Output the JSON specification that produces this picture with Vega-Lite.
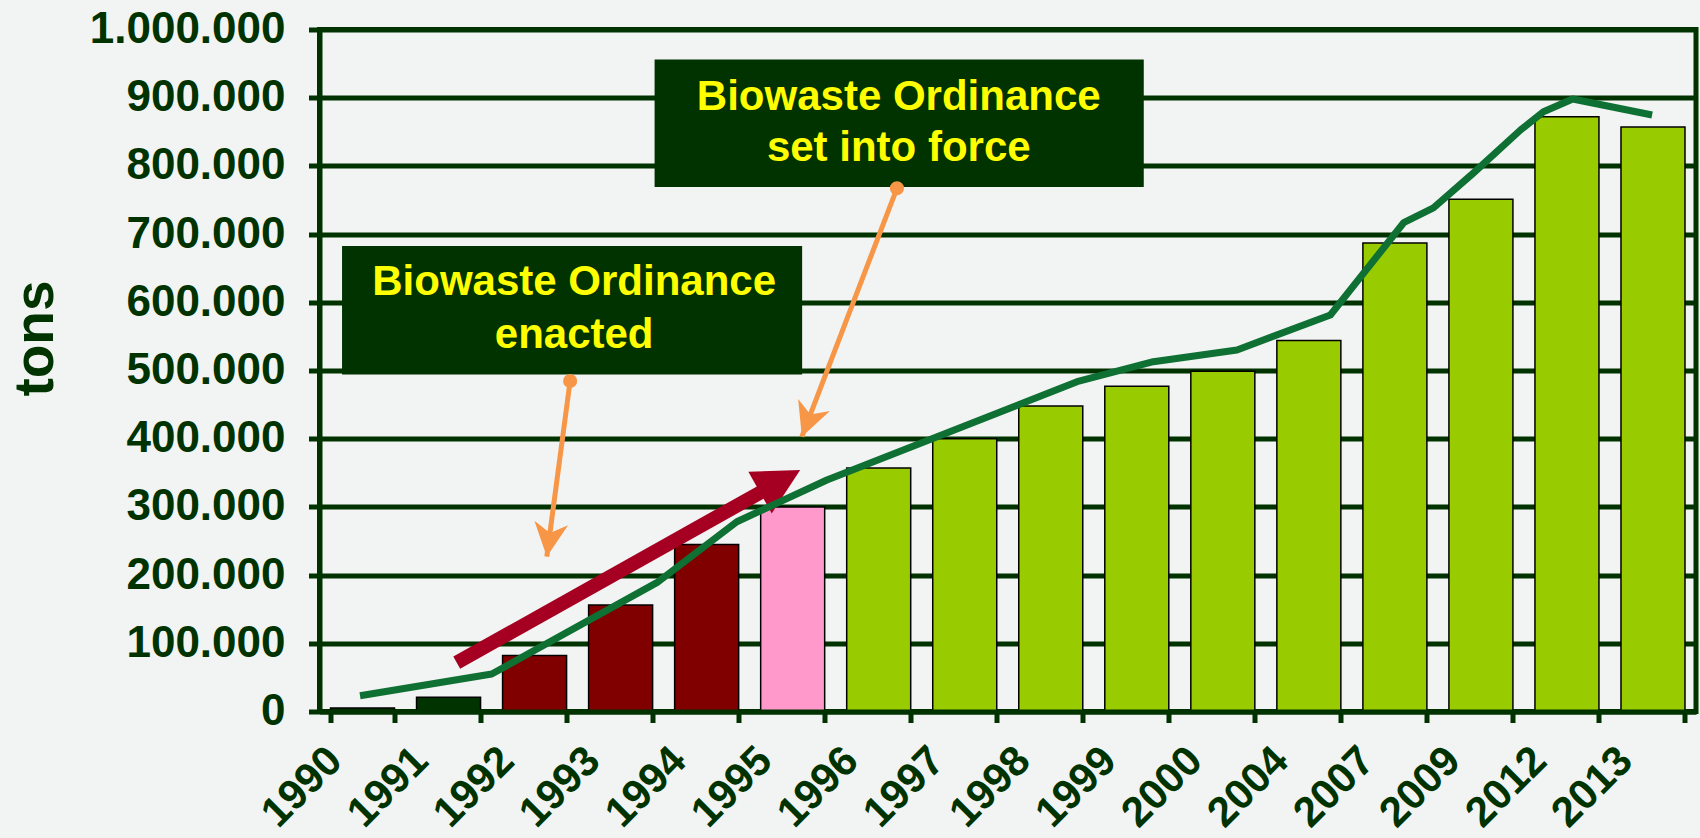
{
  "$schema": "https://vega.github.io/schema/vega-lite/v6.json",
  "width": 1376.5,
  "height": 682,
  "autosize": {"type": "none"},
  "padding": {"left": 319.5, "top": 29.5, "right": 4, "bottom": 126.5},
  "background": "#f2f4f3",
  "config": {
    "locale": {"number": {"decimal": ",", "thousands": ".", "grouping": [3], "currency": ["", " €"]}},
    "view": {"stroke": "#003300", "strokeWidth": 5},
    "font": "Liberation Sans"
  },
  "datasets": {
    "bars": [
      {"year": "1990", "tons": 5000, "phase": "before"},
      {"year": "1991", "tons": 21000, "phase": "before"},
      {"year": "1992", "tons": 82000, "phase": "enacted"},
      {"year": "1993", "tons": 156000, "phase": "enacted"},
      {"year": "1994", "tons": 245000, "phase": "enacted"},
      {"year": "1995", "tons": 300000, "phase": "transition"},
      {"year": "1996", "tons": 357000, "phase": "in force"},
      {"year": "1997", "tons": 400000, "phase": "in force"},
      {"year": "1998", "tons": 448000, "phase": "in force"},
      {"year": "1999", "tons": 477000, "phase": "in force"},
      {"year": "2000", "tons": 499000, "phase": "in force"},
      {"year": "2004", "tons": 544000, "phase": "in force"},
      {"year": "2007", "tons": 687000, "phase": "in force"},
      {"year": "2009", "tons": 751000, "phase": "in force"},
      {"year": "2012", "tons": 872000, "phase": "in force"},
      {"year": "2013", "tons": 857000, "phase": "in force"}
    ],
    "trend": [
      {"pos": 0.471, "tons": 23200},
      {"pos": 2.002, "tons": 55000},
      {"pos": 3.921, "tons": 188900},
      {"pos": 4.851, "tons": 278300},
      {"pos": 5.898, "tons": 339400},
      {"pos": 8.805, "tons": 483600},
      {"pos": 9.692, "tons": 512900},
      {"pos": 10.665, "tons": 530100},
      {"pos": 11.75, "tons": 581400},
      {"pos": 12.602, "tons": 716700},
      {"pos": 12.948, "tons": 738300},
      {"pos": 13.413, "tons": 789600},
      {"pos": 13.96, "tons": 852600},
      {"pos": 14.227, "tons": 879500},
      {"pos": 14.567, "tons": 898100},
      {"pos": 15.49, "tons": 874600}
    ],
    "arrows": [
      {"arrow": "growth", "part": "tail", "pos": 1.595, "tons": 71600},
      {"arrow": "growth", "part": "neck", "pos": 5.238, "tons": 329200},
      {"arrow": "growth", "part": "tip", "pos": 5.587, "tons": 354100},
      {"arrow": "enacted", "part": "tail", "pos": 2.913, "tons": 484600},
      {"arrow": "enacted", "part": "tip", "pos": 2.642, "tons": 227000},
      {"arrow": "in force", "part": "tail", "pos": 6.712, "tons": 767200},
      {"arrow": "in force", "part": "tip", "pos": 5.607, "tons": 402900}
    ],
    "boxes": [
      {"box": "enacted", "pos": 0.262, "pos2": 5.61, "tons": 682600, "tons2": 494100},
      {"box": "in force", "pos": 3.895, "pos2": 9.581, "tons": 956000, "tons2": 769000}
    ],
    "notes": [
      {"text": "Biowaste Ordinance", "pos": 2.96, "tons": 629800},
      {"text": "enacted", "pos": 2.96, "tons": 552100},
      {"text": "Biowaste Ordinance", "pos": 6.733, "tons": 901500},
      {"text": "set  into force", "pos": 6.733, "tons": 826000}
    ]
  },
  "resolve": {"scale": {"x": "independent"}, "axis": {"x": "independent"}},
  "encoding": {
    "y": {
      "field": "tons",
      "type": "quantitative",
      "scale": {"domain": [0, 1000000], "nice": false, "zero": true},
      "axis": {
        "title": "tons",
        "values": [0, 100000, 200000, 300000, 400000, 500000, 600000, 700000, 800000, 900000, 1000000],
        "format": ",d",
        "grid": true,
        "gridColor": "#003300",
        "gridWidth": 5,
        "gridOpacity": 1,
        "domainColor": "#003300",
        "domainWidth": 5,
        "tickColor": "#003300",
        "tickWidth": 5,
        "tickSize": 11,
        "labelFont": "Liberation Sans",
        "labelFontSize": 44,
        "labelFontWeight": "bold",
        "labelColor": "#003300",
        "labelPadding": 23.5,
        "labelOverlap": false,
        "labelFlush": false,
        "labelLimit": 0,
        "titleFont": "Liberation Sans",
        "titleFontSize": 55,
        "titleFontWeight": "bold",
        "titleColor": "#003300",
        "titleAngle": -90,
        "titleX": -284,
        "titleY": 308.5,
        "titleAlign": "center",
        "titleBaseline": "middle",
        "zindex": 0
      }
    }
  },
  "layer": [
    {
      "data": {"name": "bars"},
      "mark": {"type": "bar", "stroke": "#000000", "strokeWidth": 1.5, "opacity": 1},
      "encoding": {
        "x": {
          "field": "year",
          "type": "ordinal",
          "sort": null,
          "scale": {"paddingInner": 0.256, "paddingOuter": 0.128},
          "axis": {
            "title": null,
            "labelAngle": -45,
            "labelAlign": "right",
            "labelBaseline": "middle",
            "labelFont": "Liberation Sans",
            "labelFontSize": 42,
            "labelFontWeight": "bold",
            "labelColor": "#003300",
            "labelPadding": 31,
            "labelOffset": -28,
            "labelLimit": 0,
            "tickBand": "extent",
            "tickSize": 11,
            "tickWidth": 5,
            "tickColor": "#003300",
            "domainColor": "#003300",
            "domainWidth": 5,
            "grid": false,
            "labelOverlap": false,
            "zindex": 1
          }
        },
        "color": {
          "field": "phase",
          "type": "nominal",
          "scale": {"domain": ["before", "enacted", "transition", "in force"], "range": ["#003300", "#800000", "#ff99cc", "#99cc00"]},
          "legend": null
        }
      }
    },
    {
      "data": {"name": "arrows"},
      "transform": [{"filter": "datum.arrow === 'growth' && datum.part !== 'tip'"}],
      "mark": {"type": "line", "color": "#a50021", "strokeWidth": 14, "strokeCap": "butt"},
      "encoding": {
        "x": {"field": "pos", "type": "quantitative", "scale": {"domain": [0, 16], "nice": false, "zero": false}, "axis": null}
      }
    },
    {
      "data": {"name": "arrows"},
      "transform": [{"filter": "datum.arrow === 'growth' && datum.part === 'tip'"}],
      "mark": {"type": "point", "shape": "M0,0L-1,-0.52L-1,0.52Z", "size": 8464, "filled": true, "color": "#a50021", "opacity": 1, "angle": 330.7},
      "encoding": {
        "x": {"field": "pos", "type": "quantitative", "scale": {"domain": [0, 16], "nice": false, "zero": false}, "axis": null}
      }
    },
    {
      "data": {"name": "trend"},
      "mark": {"type": "line", "color": "#0f7033", "strokeWidth": 7, "strokeJoin": "round"},
      "encoding": {
        "x": {"field": "pos", "type": "quantitative", "scale": {"domain": [0, 16], "nice": false, "zero": false}, "axis": null}
      }
    },
    {
      "data": {"name": "boxes"},
      "mark": {"type": "rect", "color": "#003300", "opacity": 1},
      "encoding": {
        "x": {"field": "pos", "type": "quantitative", "scale": {"domain": [0, 16], "nice": false, "zero": false}, "axis": null},
        "x2": {"field": "pos2"},
        "y2": {"field": "tons2"}
      }
    },
    {
      "data": {"name": "notes"},
      "mark": {"type": "text", "font": "Liberation Sans", "fontSize": 42, "fontWeight": "bold", "color": "#ffff00", "align": "center", "baseline": "middle"},
      "encoding": {
        "x": {"field": "pos", "type": "quantitative", "scale": {"domain": [0, 16], "nice": false, "zero": false}, "axis": null},
        "text": {"field": "text"}
      }
    },
    {
      "data": {"name": "arrows"},
      "transform": [{"filter": "datum.arrow !== 'growth'"}],
      "mark": {"type": "line", "color": "#f79646", "strokeWidth": 5, "strokeCap": "butt"},
      "encoding": {
        "x": {"field": "pos", "type": "quantitative", "scale": {"domain": [0, 16], "nice": false, "zero": false}, "axis": null},
        "detail": {"field": "arrow"}
      }
    },
    {
      "data": {"name": "arrows"},
      "transform": [{"filter": "datum.arrow === 'enacted' && datum.part === 'tip'"}],
      "mark": {"type": "point", "shape": "M0,0L-1,-0.5L-0.7,0L-1,0.5Z", "size": 4624, "filled": true, "color": "#f79646", "opacity": 1, "angle": 97.55},
      "encoding": {
        "x": {"field": "pos", "type": "quantitative", "scale": {"domain": [0, 16], "nice": false, "zero": false}, "axis": null}
      }
    },
    {
      "data": {"name": "arrows"},
      "transform": [{"filter": "datum.arrow === 'in force' && datum.part === 'tip'"}],
      "mark": {"type": "point", "shape": "M0,0L-1,-0.5L-0.7,0L-1,0.5Z", "size": 4624, "filled": true, "color": "#f79646", "opacity": 1, "angle": 110.93},
      "encoding": {
        "x": {"field": "pos", "type": "quantitative", "scale": {"domain": [0, 16], "nice": false, "zero": false}, "axis": null}
      }
    },
    {
      "data": {"name": "arrows"},
      "transform": [{"filter": "datum.arrow !== 'growth' && datum.part === 'tail'"}],
      "mark": {"type": "circle", "size": 200, "color": "#f79646", "opacity": 1},
      "encoding": {
        "x": {"field": "pos", "type": "quantitative", "scale": {"domain": [0, 16], "nice": false, "zero": false}, "axis": null}
      }
    }
  ]
}
